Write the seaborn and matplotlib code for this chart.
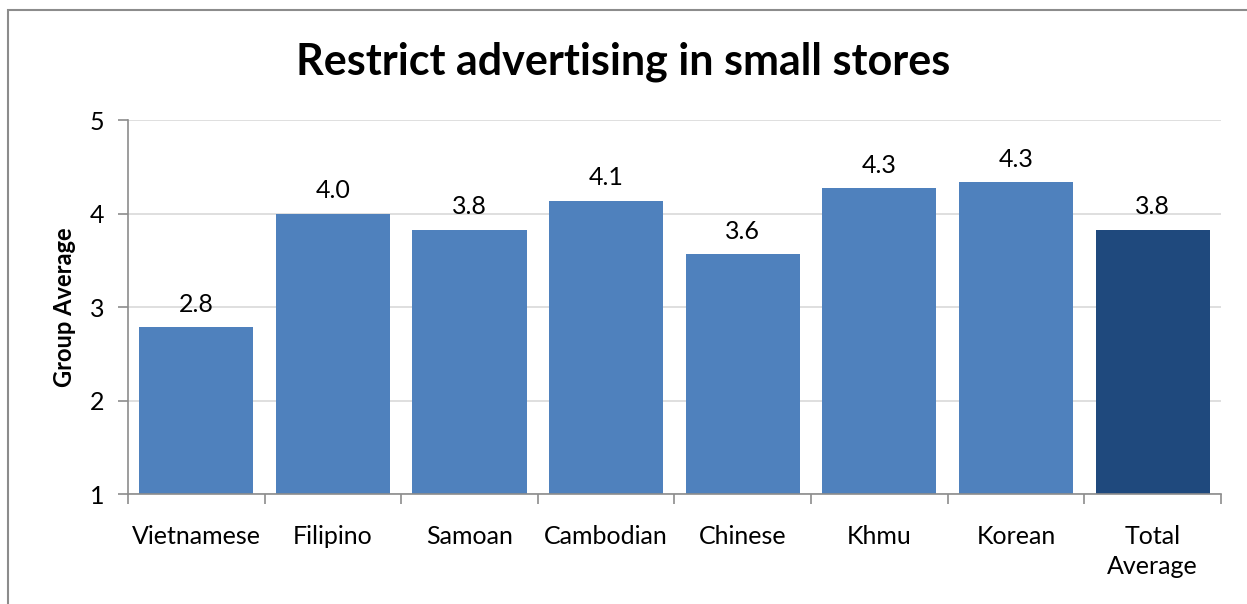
import matplotlib
matplotlib.use("Agg")
import matplotlib.pyplot as plt
import matplotlib.patches as mpatches
import numpy as np
import pandas as pd
import seaborn as sns

groups = ["Vietnamese", "Filipino", "Samoan", "Cambodian", "Chinese", "Khmu", "Korean", "Total\nAverage"]
averages = [2.79, 4.00, 3.83, 4.14, 3.57, 4.27, 4.34, 3.83]
bar_colors = ["#4F81BD"] * 7 + ["#1F497D"]

df = pd.DataFrame({"group": groups, "avg": averages})

sns.set_style("white")
plt.rcParams["font.family"] = ["Lato", "DejaVu Sans"]
plt.rcParams["text.color"] = "black"
plt.rcParams["xtick.color"] = "black"
plt.rcParams["ytick.color"] = "black"

fig = plt.figure(figsize=(12.47, 6.04), dpi=100)
ax = fig.add_axes([0.1026, 0.182, 0.8765, 0.619])

sns.barplot(data=df, x="group", y="avg", hue="group", palette=bar_colors,
            legend=False, width=0.835, saturation=1, ax=ax)
# bars start at 1 (axis minimum)
for p, v in zip(ax.patches, averages):
    p.set_y(1)
    p.set_height(v - 1)
    p.set_edgecolor("none")
    ax.text(p.get_x() + p.get_width() / 2, v + 0.12, f"{v:.1f}",
            ha="center", va="bottom", fontsize=18, color="black")

ax.set_ylim(1, 5)
ax.set_xlim(-0.5, len(groups) - 0.5)
ax.set_yticks([1, 2, 3, 4, 5])
ax.yaxis.grid(True, color="#D9D9D9", linewidth=1.2)
ax.set_axisbelow(True)
for s in ["top", "right"]:
    ax.spines[s].set_visible(False)
for s in ["left", "bottom"]:
    ax.spines[s].set_color("#8C8C8C")
    ax.spines[s].set_linewidth(1.2)

ax.tick_params(axis="y", length=7, width=1.2, color="#8C8C8C", labelcolor="black",
               labelsize=18, pad=10, left=True)
ax.tick_params(axis="x", which="major", length=0, labelsize=18, labelcolor="black", pad=22)
ax.set_xticks(np.arange(-0.5, len(groups)), minor=True)
ax.tick_params(axis="x", which="minor", length=7, width=1.2, color="#8C8C8C", bottom=True)
for lbl in ax.get_xticklabels():
    lbl.set_linespacing(1.4)

ax.set_xlabel("")
ax.set_ylabel("Group Average", fontsize=17, fontweight="bold", labelpad=10, color="black")
fig.text(0.5, 0.897, "Restrict advertising in small stores", fontsize=31,
         fontweight="bold", ha="center", va="center", color="black")

fig.patches.append(mpatches.Rectangle((8 / 1247, -0.1), 1.2, 1 - 10 / 604 + 0.1,
                                      transform=fig.transFigure, fill=False,
                                      edgecolor="#8C8C8C", linewidth=1.5))

fig.savefig("out.png", dpi=100)
